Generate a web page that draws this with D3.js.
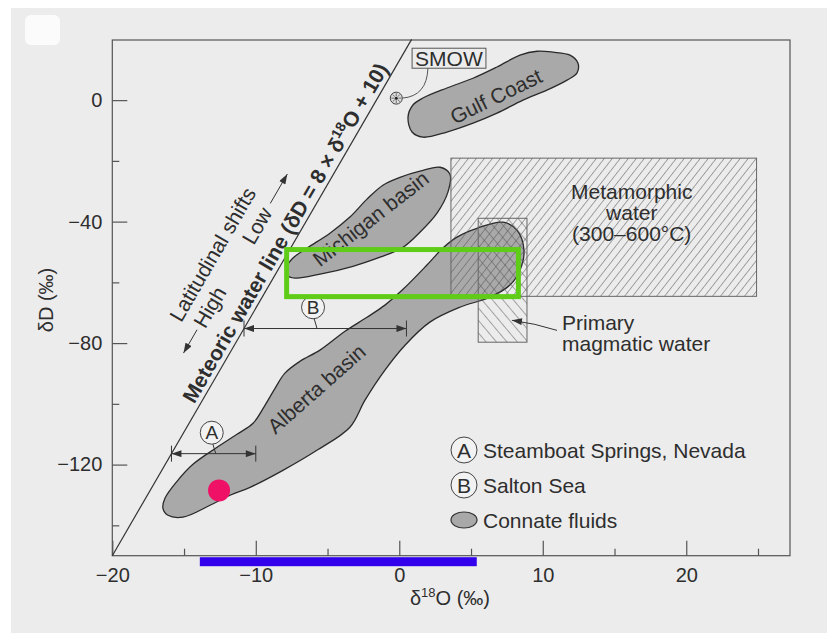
<!DOCTYPE html>
<html><head><meta charset="utf-8">
<script src="https://cdn.jsdelivr.net/npm/d3@7/dist/d3.min.js"></script>
<style>body{margin:0;background:#fff}text{font-family:"Liberation Sans",Arial,Helvetica,sans-serif;fill:#2e2e2e}</style>
</head><body><svg id="c" width="827" height="633"></svg>
<script>
// ---------- data ----------
const xTicks = [-20, -10, 0, 10, 20];
const xMinor = [-15, -5, 5, 15, 25];
const yTicks = [0, -40, -80, -120];
const yMinor = [-20, -60, -100, -140];
const mwl = [[-20, -150], [0.86, 20]];          // meteoric water line as drawn
const smow = [0, 0];
const gulfCoast = [[0.61,-5.6],[0.95,-1.6],[1.65,0.7],[3.32,4.0],[5.14,7.2],[6.81,10.9],[8.41,14.8],[9.6,16.1],[10.71,15.8],[11.9,14.8],[12.45,12.2],[12.38,8.9],[11.69,6.6],[10.29,3.3],[8.62,0.0],[6.81,-4.3],[5.14,-7.6],[3.32,-10.5],[1.65,-12.2],[0.89,-10.5]];
const michiganBasin = [[-7.89,-55.3],[-7.41,-52.0],[-6.43,-48.7],[-4.83,-43.8],[-3.44,-38.5],[-2.25,-32.6],[-1.14,-28.0],[0.05,-25.4],[1.44,-23.4],[2.84,-22.1],[3.53,-24.4],[3.39,-30.3],[2.63,-37.2],[1.44,-43.5],[0.19,-48.7],[-1.34,-51.7],[-3.23,-54.7],[-5.52,-57.3],[-7.27,-58.6],[-7.83,-57.6]];
const albertaBasin = [[-16.47,-134.4],[-16.33,-131.1],[-15.49,-125.5],[-14.38,-119.9],[-12.70,-114.3],[-11.31,-110.0],[-10.19,-106.4],[-9.36,-100.5],[-8.66,-94.9],[-7.97,-89.9],[-6.92,-86.0],[-5.53,-82.3],[-3.78,-76.1],[-2.25,-71.5],[-1.0,-67.5],[0.26,-62.3],[1.93,-54.3],[3.04,-48.7],[4.02,-45.1],[5.41,-42.2],[7.23,-40.2],[8.2,-42.8],[8.69,-49.4],[8.41,-56.0],[7.71,-60.9],[6.31,-64.9],[4.22,-68.2],[2.13,-73.1],[0.4,-80.7],[-1.0,-88.9],[-2.39,-98.8],[-3.44,-107.7],[-5.74,-115.3],[-8.11,-121.9],[-10.4,-127.5],[-11.8,-130.1],[-13.19,-133.4],[-15.07,-137.3],[-16.12,-136.7]];
const metamorphicBox = [3.6, 24.9, -19.1, -64.6];   // x0,x1,y0,y1
const magmaticBox = [5.5, 8.9, -38.9, -79.7];
const rangeA = {label: "A", dD: -116.4, x1: -10, circle: [-13.07, -109.5]};
const rangeB = {label: "B", dD: -75.2, x1: 0.5, circle: [-6.01, -68.2]};
const legendItems = [
  {key: "A", text: "Steamboat Springs, Nevada"},
  {key: "B", text: "Salton Sea"},
  {key: "ellipse", text: "Connate fluids"}
];
const highlightRect = [-7.85, 8.3, -49.2, -64.7];
const blueBar = [-13.9, 5.4];
const pinkPoint = [-12.56, -128.5];

// ---------- setup ----------
const svg = d3.select('#c');
const x = d3.scaleLinear().domain([-20, 27.23]).range([112.3, 790]);
const y = d3.scaleLinear().domain([-150, 19.8]).range([555.7, 40]);
const ink = '#333';

svg.append('rect').attr('width', 827).attr('height', 633).attr('fill', '#fff');
svg.append('rect').attr('x', 11).attr('y', 8).attr('width', 816).attr('height', 625).attr('fill', '#ececec');
svg.append('rect').attr('x', 25).attr('y', 15).attr('width', 35).attr('height', 30).attr('rx', 6).attr('fill', '#fbfbfb');

const defs = svg.append('defs');
function hatch(id, rot, w) {
  defs.append('pattern').attr('id', id).attr('patternUnits', 'userSpaceOnUse')
    .attr('width', w).attr('height', w).attr('patternTransform', `rotate(${rot})`)
    .append('line').attr('x1', 0).attr('y1', 0).attr('x2', 0).attr('y2', w)
    .attr('stroke', '#555').attr('stroke-width', 1);
}
hatch('hMeta', 38, 6.3);
hatch('hMag', -40, 8);
defs.append('marker').attr('id', 'ah').attr('viewBox', '0 0 10 7').attr('refX', 10).attr('refY', 3.5)
  .attr('markerWidth', 11).attr('markerHeight', 7).attr('markerUnits', 'userSpaceOnUse')
  .attr('orient', 'auto-start-reverse')
  .append('path').attr('d', 'M0,0L10,3.5L0,7Z').attr('fill', ink);

// frame
svg.append('rect').attr('x', x(-20)).attr('y', y(19.8)).attr('width', x(27.23) - x(-20)).attr('height', y(-150) - y(19.8))
  .attr('fill', 'none').attr('stroke', '#555').attr('stroke-width', 1.2);

// axes
const fs = 20;
const gx = svg.append('g').attr('transform', `translate(0,${y(-150)})`)
  .call(d3.axisBottom(x).tickValues(xTicks).tickSizeInner(-15).tickSizeOuter(0).tickPadding(12));
const gxm = svg.append('g').attr('transform', `translate(0,${y(-150)})`)
  .call(d3.axisBottom(x).tickValues(xMinor).tickSizeInner(-7).tickSizeOuter(0).tickFormat(''));
const gy = svg.append('g').attr('transform', `translate(${x(-20)},0)`)
  .call(d3.axisLeft(y).tickValues(yTicks).tickSizeInner(-15).tickSizeOuter(0).tickPadding(10));
const gym = svg.append('g').attr('transform', `translate(${x(-20)},0)`)
  .call(d3.axisLeft(y).tickValues(yMinor).tickSizeInner(-7).tickSizeOuter(0).tickFormat(''));
[gx, gxm, gy, gym].forEach(g => {
  g.select('.domain').remove();
  g.selectAll('line').attr('stroke', '#555').attr('stroke-width', 1.2);
  g.selectAll('text').attr('font-size', fs).attr('font-family', '"Liberation Sans",Arial,sans-serif').attr('fill', '#2e2e2e');
});

// axis titles
const xt = svg.append('text').attr('x', 450).attr('y', 605).attr('text-anchor', 'middle').attr('font-size', 20);
xt.append('tspan').text('δ');
xt.append('tspan').text('18').attr('font-size', 13).attr('dy', -8);
xt.append('tspan').text('O (‰)').attr('dy', 8);
svg.append('text').attr('transform', 'translate(53,300) rotate(-90)').attr('text-anchor', 'middle')
  .attr('font-size', 20).text('δD (‰)');

// meteoric water line
svg.append('line').attr('x1', x(mwl[0][0])).attr('y1', y(mwl[0][1])).attr('x2', x(mwl[1][0])).attr('y2', y(mwl[1][1]))
  .attr('stroke', ink).attr('stroke-width', 1.2);

// blobs
const blob = d3.line().x(d => x(d[0])).y(d => y(d[1])).curve(d3.curveCatmullRomClosed.alpha(0.5));
[gulfCoast, michiganBasin, albertaBasin].forEach(b => {
  svg.append('path').attr('d', blob(b)).attr('fill', '#a9a9a9').attr('stroke', '#2a2a2a').attr('stroke-width', 1.3);
});

// boxes
function box(b, fill) {
  svg.append('rect').attr('x', x(b[0])).attr('y', y(b[2])).attr('width', x(b[1]) - x(b[0])).attr('height', y(b[3]) - y(b[2]))
    .attr('fill', fill).attr('stroke', '#666').attr('stroke-width', 1);
}
box(metamorphicBox, 'url(#hMeta)');
box(magmaticBox, 'url(#hMag)');

// blob labels
function rlabel(px, py, ang, txt) {
  svg.append('text').attr('transform', `translate(${px},${py}) rotate(${ang})`).attr('text-anchor', 'middle')
    .attr('dominant-baseline', 'central').attr('font-size', 21).text(txt);
}
rlabel(x(6.74), y(1.3), -26, 'Gulf Coast');
rlabel(x(-2.0), y(-39.0), -38, 'Michigan basin');
rlabel(x(-5.77), y(-95.0), -41.5, 'Alberta basin');

// metamorphic label
['Metamorphic', 'water', '(300–600°C)'].forEach((t, i) => {
  svg.append('text').attr('x', x(16.2)).attr('y', y(-32.6) + i * 21).attr('text-anchor', 'middle').attr('font-size', 21).text(t);
});
// primary magmatic water
['Primary', 'magmatic water'].forEach((t, i) => {
  svg.append('text').attr('x', x(11.34)).attr('y', y(-75.8) + i * 21).attr('font-size', 21).text(t);
});
{
  const sx = x(11.34) - 5, sy = y(-75.8);
  const ex = x(7.85), ey = y(-72.5);
  svg.append('path').attr('d', `M${sx},${sy}Q${sx - 22},${sy - 7} ${ex},${ey}`).attr('fill', 'none')
    .attr('stroke', ink).attr('stroke-width', 1).attr('marker-end', 'url(#ah)');
}

// SMOW
{
  const cx = x(smow[0]) - 3, cy = y(smow[1]) - 2;
  svg.append('circle').attr('cx', cx).attr('cy', cy).attr('r', 6).attr('fill', '#ddd').attr('stroke', '#444').attr('stroke-width', 1);
  d3.range(8).forEach(k => {
    const a = k * Math.PI / 4;
    svg.append('line').attr('x1', cx + 2 * Math.cos(a)).attr('y1', cy + 2 * Math.sin(a)).attr('x2', cx + 5 * Math.cos(a)).attr('y2', cy + 5 * Math.sin(a))
      .attr('stroke', '#555').attr('stroke-width', 0.8);
  });
  svg.append('circle').attr('cx', cx).attr('cy', cy).attr('r', 1.5).attr('fill', '#222');
  const tx = x(3.46), ty = y(13.8);
  const t = svg.append('text').attr('x', tx).attr('y', ty).attr('text-anchor', 'middle').attr('dominant-baseline', 'central')
    .attr('font-size', 21).text('SMOW');
  const bb = t.node().getBBox();
  svg.insert('rect', () => t.node()).attr('x', bb.x - 3).attr('y', ty - 10).attr('width', bb.width + 6).attr('height', 20)
    .attr('fill', 'none').attr('stroke', '#555').attr('stroke-width', 1);
  svg.append('path').attr('d', `M${cx + 6},${cy}Q${tx - 22},${cy - 2} ${tx - 21},${ty + 10}`).attr('fill', 'none').attr('stroke', '#555').attr('stroke-width', 1);
}

// MWL-relative labels
const P0 = [x(mwl[0][0]), y(mwl[0][1])], P1 = [x(mwl[1][0]), y(mwl[1][1])];
const Lm = Math.hypot(P1[0] - P0[0], P1[1] - P0[1]);
const ux = (P1[0] - P0[0]) / Lm, uy = (P1[1] - P0[1]) / Lm;
const nx = uy, ny = -ux;
const ang = Math.atan2(uy, ux) * 180 / Math.PI;
const along = (s, n) => [P0[0] + s * ux + n * nx, P0[1] + s * uy + n * ny];
{
  const p = along(366, 5);
  const t = svg.append('text').attr('transform', `translate(${p[0]},${p[1]}) rotate(${ang})`).attr('text-anchor', 'middle')
    .attr('font-size', 21).attr('font-weight', 'bold');
  t.append('tspan').text('Meteoric water line (δD = 8 × δ');
  t.append('tspan').text('18').attr('font-size', 14).attr('dy', -8);
  t.append('tspan').text('O + 10)').attr('dy', 8);
  const p2 = along(311, 57);
  svg.append('text').attr('transform', `translate(${p2[0]},${p2[1]}) rotate(${ang})`).attr('text-anchor', 'middle').attr('font-size', 21).text('Latitudinal shifts');
  const p3 = along(264, 33);
  svg.append('text').attr('transform', `translate(${p3[0]},${p3[1]}) rotate(${ang})`).attr('text-anchor', 'middle').attr('font-size', 21).text('High');
  const p4 = along(358, 33);
  svg.append('text').attr('transform', `translate(${p4[0]},${p4[1]}) rotate(${ang})`).attr('text-anchor', 'middle').attr('font-size', 21).text('Low');
  [[238, 211], [384, 418]].forEach(([a, b]) => {
    const q0 = along(a, 40), q1 = along(b, 40);
    svg.append('line').attr('x1', q0[0]).attr('y1', q0[1]).attr('x2', q1[0]).attr('y2', q1[1])
      .attr('stroke', ink).attr('stroke-width', 1).attr('marker-end', 'url(#ah)');
  });
}

// ranges A and B
function mwlX(dD) { return mwl[0][0] + (dD - mwl[0][1]) / (mwl[1][1] - mwl[0][1]) * (mwl[1][0] - mwl[0][0]); }
function circLabel(cx, cy, r, txt, size) {
  svg.append('circle').attr('cx', cx).attr('cy', cy).attr('r', r).attr('fill', '#f2f2f2').attr('stroke', '#444').attr('stroke-width', 1);
  svg.append('text').attr('x', cx).attr('y', cy).attr('text-anchor', 'middle').attr('dominant-baseline', 'central').attr('font-size', size).text(txt);
}
[rangeA, rangeB].forEach(r => {
  const x0 = x(mwlX(r.dD)), x1 = x(r.x1), yy = y(r.dD);
  svg.append('line').attr('x1', x0).attr('y1', yy).attr('x2', x1).attr('y2', yy).attr('stroke', ink).attr('stroke-width', 1)
    .attr('marker-start', 'url(#ah)').attr('marker-end', 'url(#ah)');
  [x0, x1].forEach(xx => svg.append('line').attr('x1', xx).attr('x2', xx).attr('y1', yy - 8).attr('y2', yy + 8).attr('stroke', ink).attr('stroke-width', 1));
  const cx = x(r.circle[0]), cy = y(r.circle[1]);
  svg.append('line').attr('x1', cx + 1).attr('y1', cy + 11).attr('x2', cx + 4).attr('y2', yy).attr('stroke', ink).attr('stroke-width', 1);
  circLabel(cx, cy, 11.5, r.label, 19);
});

// legend
legendItems.forEach((d, i) => {
  const cx = 464, cy = 450 + i * 35;
  if (d.key === 'ellipse') {
    svg.append('ellipse').attr('cx', cx).attr('cy', cy).attr('rx', 13).attr('ry', 8).attr('fill', '#a9a9a9').attr('stroke', '#333').attr('stroke-width', 1.2);
  } else {
    circLabel(cx, cy, 13, d.key, 21);
  }
  svg.append('text').attr('x', 483).attr('y', cy).attr('dominant-baseline', 'central').attr('font-size', 21).text(d.text);
});

// overlays
svg.append('rect').attr('x', x(highlightRect[0])).attr('y', y(highlightRect[2])).attr('width', x(highlightRect[1]) - x(highlightRect[0]))
  .attr('height', y(highlightRect[3]) - y(highlightRect[2])).attr('fill', 'none').attr('stroke', '#5fcc18').attr('stroke-width', 5);
svg.append('rect').attr('x', x(blueBar[0])).attr('y', y(-150) + 1.5).attr('width', x(blueBar[1]) - x(blueBar[0])).attr('height', 9).attr('fill', '#3300ee');
svg.append('circle').attr('cx', x(pinkPoint[0])).attr('cy', y(pinkPoint[1])).attr('r', 11).attr('fill', '#ee1166');
</script></body></html>
